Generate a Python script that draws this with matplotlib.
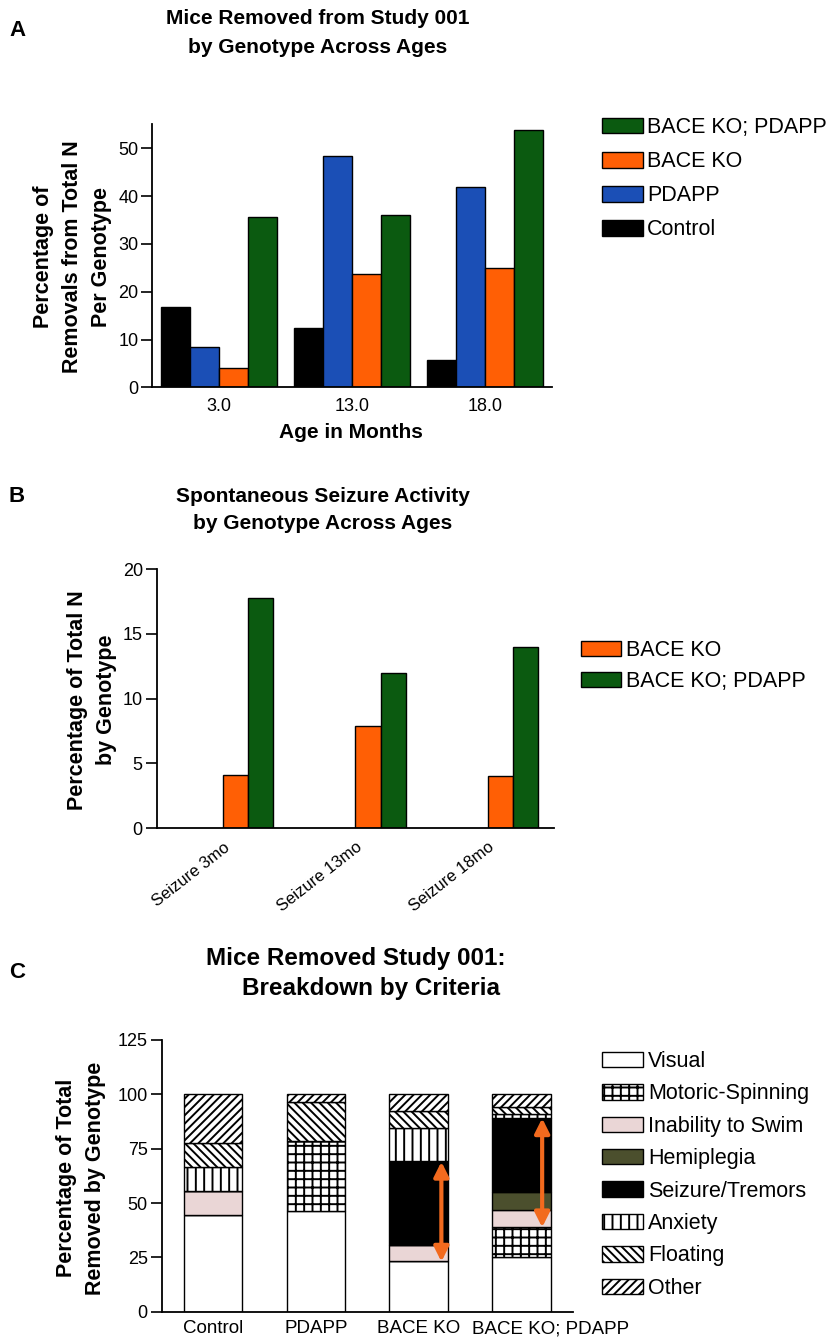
"""
Three-panel figure: removals by genotype, seizure activity, removal criteria breakdown.
"""

import matplotlib

matplotlib.use("Agg")
import matplotlib.pyplot as plt
import matplotlib.transforms as mtransforms
import numpy as np
from matplotlib.patches import Patch

plt.rcParams["font.family"] = ["Liberation Sans", "DejaVu Sans"]
plt.rcParams["hatch.linewidth"] = 1.4
plt.rcParams["axes.linewidth"] = 1.3

W, H = 833, 1342

# ---- Panel A data ----
ages = ["3.0", "13.0", "18.0"]
genotypes_a = ["Control", "PDAPP", "BACE KO", "BACE KO; PDAPP"]
removal_control = [16.7, 12.5, 5.8]
removal_pdapp = [8.4, 48.4, 41.8]
removal_bace_ko = [4.1, 23.8, 24.9]
removal_bace_pdapp = [35.7, 36.1, 53.8]

# ---- Panel B data ----
seizure_groups = ["Seizure 3mo", "Seizure 13mo", "Seizure 18mo"]
seizure_bace_ko = [4.1, 7.9, 4.0]
seizure_bace_pdapp = [17.8, 12.0, 14.0]

# ---- Panel C data ----
genotypes_c = ["Control", "PDAPP", "BACE KO", "BACE KO; PDAPP"]
criteria = ["Visual", "Motoric-Spinning", "Inability to Swim", "Hemiplegia",
            "Seizure/Tremors", "Anxiety", "Floating", "Other"]
crit_visual = [44.4, 46.4, 23.1, 25.0]
crit_motoric = [0.0, 32.2, 0.0, 14.0]
crit_swim = [11.1, 0.0, 7.7, 8.0]
crit_hemiplegia = [0.0, 0.0, 0.0, 8.0]
crit_seizure = [0.0, 0.0, 38.5, 34.0]
crit_anxiety = [11.1, 0.0, 15.4, 2.0]
crit_floating = [11.1, 17.9, 7.7, 3.0]
crit_other = [22.3, 3.5, 7.6, 6.0]

COL_BLACK = "#000000"
COL_BLUE = "#1b4fb6"
COL_ORANGE = "#ff5f05"
COL_GREEN = "#0b5a10"
COL_PINK = "#ead6d6"
COL_OLIVE = "#4b4f2d"
COL_ARROW = "#f26a1e"


def px_axes(fig, left, top, right, bottom):
    return fig.add_axes([left / W, 1 - bottom / H, (right - left) / W, (bottom - top) / H])


def style_axes(ax):
    ax.spines["top"].set_visible(False)
    ax.spines["right"].set_visible(False)
    ax.tick_params(axis="y", direction="out", length=8, width=1.2, labelsize=13, pad=2)
    ax.tick_params(axis="x", length=0, labelsize=13, pad=8)


def fig_text(fig, x, y, s, **kw):
    return fig.text(x / W, 1 - y / H, s, **kw)


fig = plt.figure(figsize=(W / 100, H / 100), dpi=100)

# ================= Panel A =================
ax_a = px_axes(fig, 152.3, 124.4, 551.7, 387.3)
x = np.arange(len(ages))
bw = 0.218
series_a = [removal_control, removal_pdapp, removal_bace_ko, removal_bace_pdapp]
colors_a = [COL_BLACK, COL_BLUE, COL_ORANGE, COL_GREEN]
for i, (vals, col) in enumerate(zip(series_a, colors_a)):
    ax_a.bar(x + (i - 2) * bw, vals, bw, align="edge", color=col,
             edgecolor="black", linewidth=1.0, label=genotypes_a[i])
ax_a.set_xlim(-0.5, 2.5)
ax_a.set_ylim(0, 55)
ax_a.set_yticks([0, 10, 20, 30, 40, 50])
ax_a.set_xticks(x)
ax_a.set_xticklabels(ages)
style_axes(ax_a)
fig_text(fig, 351, 432, "Age in Months", ha="center", va="center",
         fontsize=15, fontweight="bold")
fig_text(fig, 72, 257, "Percentage of\nRemovals from Total N\nPer Genotype",
         ha="center", va="center", rotation=90, fontsize=15.5,
         fontweight="bold", linespacing=1.5)
fig_text(fig, 318, 33, "Mice Removed from Study 001\nby Genotype Across Ages",
         ha="center", va="center", fontsize=15, fontweight="bold", linespacing=1.65)
fig_text(fig, 17, 30, "A", ha="center", va="center", fontsize=16, fontweight="bold")

leg_handles = [Patch(facecolor=c, edgecolor="black", linewidth=1.0)
               for c in colors_a][::-1]
fig.legend(leg_handles, genotypes_a[::-1], loc="upper left",
           bbox_to_anchor=(601.7 / W, 1 - 117 / H), frameon=False,
           fontsize=15.5, borderpad=0, borderaxespad=0, handlelength=1.9,
           handleheight=0.75, handletextpad=0.2, labelspacing=0.61)

# ================= Panel B =================
ax_b = px_axes(fig, 156.7, 569, 554, 828.3)
xb = np.arange(len(seizure_groups))
bw_b = 0.19
ax_b.bar(xb, seizure_bace_ko, bw_b, align="edge", color=COL_ORANGE,
         edgecolor="black", linewidth=1.0, label="BACE KO")
ax_b.bar(xb + bw_b, seizure_bace_pdapp, bw_b, align="edge", color=COL_GREEN,
         edgecolor="black", linewidth=1.0, label="BACE KO; PDAPP")
ax_b.set_xlim(-0.5, 2.5)
ax_b.set_ylim(0, 20)
ax_b.set_yticks([0, 5, 10, 15, 20])
ax_b.set_xticks(xb)
ax_b.set_xticklabels(seizure_groups, rotation=38, ha="right",
                     rotation_mode="anchor")
style_axes(ax_b)
ax_b.tick_params(axis="x", labelsize=12, pad=8)
fig_text(fig, 92, 700, "Percentage of Total N\nby Genotype", ha="center",
         va="center", rotation=90, fontsize=15.5, fontweight="bold",
         linespacing=1.5)
fig_text(fig, 323, 510, "Spontaneous Seizure Activity\nby Genotype Across Ages",
         ha="center", va="center", fontsize=15, fontweight="bold", linespacing=1.5)
fig_text(fig, 17, 497, "B", ha="center", va="center", fontsize=16, fontweight="bold")
hb, lb = ax_b.get_legend_handles_labels()
fig.legend(hb, lb, loc="upper left", bbox_to_anchor=(580.7 / W, 1 - 640 / H),
           frameon=False, fontsize=15.5, borderpad=0, borderaxespad=0,
           handlelength=1.86, handleheight=0.7, handletextpad=0.25,
           labelspacing=0.47)

# ================= Panel C =================
ax_c = px_axes(fig, 161.7, 1040, 573, 1311.7)
xc = np.arange(len(genotypes_c))
bw_c = 0.57
stack = [crit_visual, crit_motoric, crit_swim, crit_hemiplegia,
         crit_seizure, crit_anxiety, crit_floating, crit_other]
faces = ["white", "white", COL_PINK, COL_OLIVE, "black", "white", "white", "white"]
hatches = ["", "++", "", "", "", "||", "\\" * 4, "/" * 4]
bottom = np.zeros(len(genotypes_c))
for vals, fc, ht, name in zip(stack, faces, hatches, criteria):
    vals = np.asarray(vals)
    ax_c.bar(xc, vals, bw_c, bottom=bottom, color=fc, hatch=ht,
             edgecolor="black", linewidth=1.0, label=name)
    bottom = bottom + vals
ax_c.set_xlim(-0.5, 3.5)
ax_c.set_ylim(0, 125)
ax_c.set_yticks([0, 25, 50, 75, 100, 125])
ax_c.set_xticks(xc)
ax_c.set_xticklabels(genotypes_c)
style_axes(ax_c)
ax_c.tick_params(axis="x", labelsize=13.5, pad=6)
# last label sits shifted to the right in the original
last = ax_c.get_xticklabels()[-1]
last.set_transform(last.get_transform()
                   + mtransforms.ScaledTranslation(0.29, 0, fig.dpi_scale_trans))

# orange double arrows over the seizure segments
arrow_x = [2.22, 3.20]
arrow_lo = [23, 38.8]
arrow_hi = [69, 89]
for ax_, lo, hi in zip(arrow_x, arrow_lo, arrow_hi):
    ax_c.annotate("", xy=(ax_, hi), xytext=(ax_, lo),
                  arrowprops=dict(arrowstyle="<|-|>", color=COL_ARROW, lw=3,
                                  mutation_scale=22, shrinkA=0, shrinkB=0))

fig_text(fig, 81, 1178, "Percentage of Total\nRemoved by Genotype", ha="center",
         va="center", rotation=90, fontsize=15.5, fontweight="bold",
         linespacing=1.5)
fig_text(fig, 356, 958, "Mice Removed Study 001:", ha="center", va="center",
         fontsize=17.5, fontweight="bold")
fig_text(fig, 371, 988, "Breakdown by Criteria", ha="center", va="center",
         fontsize=17.5, fontweight="bold")
fig_text(fig, 17, 972, "C", ha="center", va="center", fontsize=16, fontweight="bold")

leg_c = [Patch(facecolor=fc, hatch=ht, edgecolor="black", linewidth=1.0)
         for fc, ht in zip(faces, hatches)]
fig.legend(leg_c, criteria, loc="upper left",
           bbox_to_anchor=(601.7 / W, 1 - 1051 / H), frameon=False,
           fontsize=15.5, borderpad=0, borderaxespad=0, handlelength=1.93,
           handleheight=0.73, handletextpad=0.22, labelspacing=0.53)

fig.savefig("out.png", dpi=100)
